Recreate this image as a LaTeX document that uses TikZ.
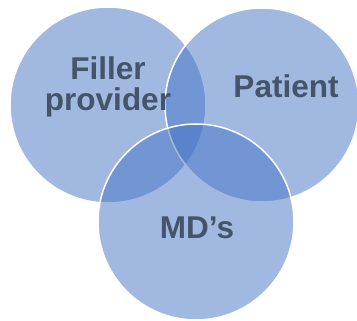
\documentclass[tikz,border=0pt]{standalone}
\usepackage{fontspec}
\setmainfont{Liberation Sans}
\usepackage{tikz}
\usetikzlibrary{positioning}
\definecolor{accent}{RGB}{68,114,196}
\definecolor{labeltext}{RGB}{68,84,106}
\tikzstyle{vennset}=[circle, fill=accent, fill opacity=0.5, draw=white, line width=1.5pt, inner sep=0pt]
\tikzstyle{setlabel}=[text=labeltext, font=\fontsize{31.5}{31}\selectfont\bfseries, align=center, inner sep=0pt]

\begin{document}
\begin{tikzpicture}[x=1pt, y=-1pt]
        \useasboundingbox (0,0) rectangle (357,321);

        % Circles
        \node at (108,105) [vennset, minimum size=196pt] (filler) {};
        \node at (262,105) [vennset, minimum size=194pt] (patient) {};
        \node at (196,222) [vennset, minimum size=196pt] (mds) {};

        % Labels
        \node at (108,87) [setlabel] (filler_label) {Filler\\provider};
        \node at (286,98) [setlabel, anchor=base] (patient_label) {Patient};
        \node at (197,239) [setlabel, anchor=base] (mds_label) {MD’s};
      \end{tikzpicture}
\end{document}
